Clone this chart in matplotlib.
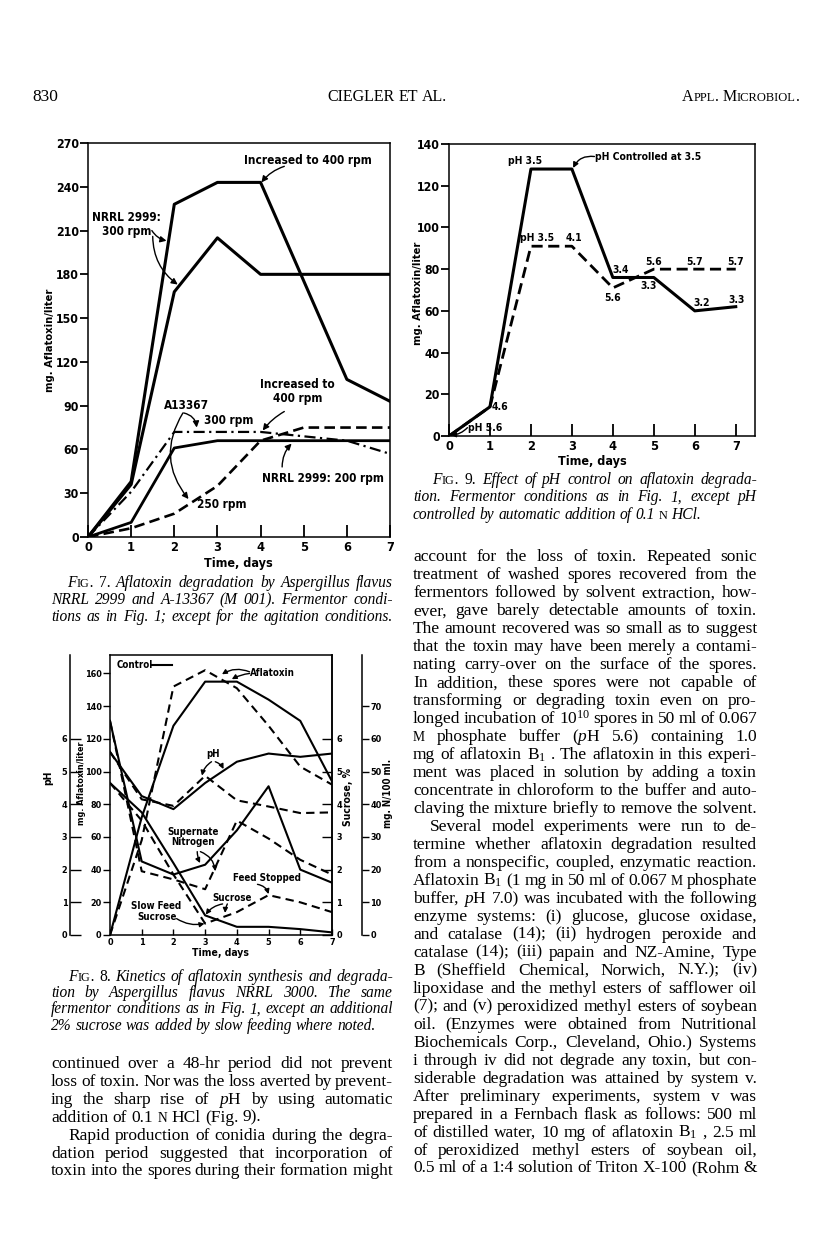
import re
import numpy as np
import matplotlib
matplotlib.use("Agg")
import matplotlib.pyplot as plt

plt.rcParams['font.family'] = ['Liberation Sans Narrow', 'DejaVu Sans']
plt.rcParams['font.weight'] = 'bold'
plt.rcParams['font.stretch'] = 'condensed'
plt.rcParams['mathtext.fontset'] = 'custom'
plt.rcParams['mathtext.rm'] = 'Liberation Serif:weight=normal'
plt.rcParams['mathtext.it'] = 'Liberation Serif:style=italic:weight=normal'
plt.rcParams['axes.linewidth'] = 1.1

SERIF = ['Liberation Serif', 'DejaVu Serif']

# ---------------- Fig. 7 data (mg aflatoxin / liter) ----------------
f7_rpm400_x = [0, 1, 2, 3, 4, 6, 7]
f7_rpm400_y = [0, 38, 228, 243, 243, 108, 93]
f7_rpm300_x = [0, 1, 2, 3, 4, 7]
f7_rpm300_y = [0, 36, 168, 205, 180, 180]
f7_rpm200_x = [0, 1, 2, 3, 7]
f7_rpm200_y = [0, 10, 61, 66, 66]
f7_a300_x = [0, 1, 2, 4, 5, 6, 7]
f7_a300_y = [0, 31, 72, 72, 69, 66, 57]
f7_a250_x = [0, 1, 2, 3, 4, 5, 7]
f7_a250_y = [0, 6, 16, 35, 66, 75, 75]

# ---------------- Fig. 8 data ----------------
f8_days = [0, 1, 2, 3, 4, 5, 6, 7]
f8_afla_ctrl = [0, 72, 128, 155, 155, 144, 131, 94]
f8_afla_feed = [0, 58, 152, 162, 151, 128, 103, 92]
f8_ph_ctrl = [5.6, 4.25, 3.85, 4.65, 5.3, 5.55, 5.45, 5.55]
f8_ph_feed = [5.6, 4.15, 3.95, 4.87, 4.12, 3.93, 3.73, 3.75]
f8_n_ctrl = [65.5, 22.5, 18.5, 21.5, 32, 45.5, 20, 16]
f8_n_feed = [65.5, 19.5, 17, 14, 35, 29.5, 23, 18.5]
f8_suc_ctrl = [4.65, 3.75, 2.2, 0.6, 0.25, 0.25, 0.18, 0.08]
f8_suc_feed = [4.65, 3.5, 1.85, 0.35, 0.7, 1.22, 1.0, 0.7]

# ---------------- Fig. 9 data ----------------
f9_days = [0, 1, 2, 3, 4, 5, 6, 7]
f9_ctrl = [0, 14, 128, 128, 76, 76, 60, 62]
f9_free = [0, 14, 91, 91, 71, 80, 80, 80]
f9_ctrl_ph = [None, '4.6', 'pH 3.5', None, '3.4', '3.3', '3.2', '3.3']
f9_free_ph = [None, None, 'pH 3.5', '4.1', '5.6', '5.6', '5.7', '5.7']
f9_ctrl_off = [None, (10, 0), (-6, 8), None, (8, 7), (-5, -9), (7, 8), (1, 7)]
f9_free_off = [None, None, (6, 8), (2, 8), (0, -10), (0, 7), (0, 7), (0, 7)]

# ---------------- text ----------------
cap7 = ["F<IG>. #7. Aflatoxin degradation by Aspergillus flavus",
        "NRRL 2999 and A-13367 (M 001). Fermentor condi-",
        "tions as in Fig. 1; except for the agitation conditions."]
cap8 = ["F<IG>. #8. Kinetics of aflatoxin synthesis and degrada-",
        "tion by Aspergillus flavus NRRL 3000. The same",
        "fermentor conditions as in Fig. 1, except an additional",
        "2% sucrose was added by slow feeding where noted."]
cap9 = ["F<IG>. #9. Effect of pH control on aflatoxin degrada-",
        "tion. Fermentor conditions as in Fig. 1, except pH",
        "controlled by automatic addition of 0.1 #<N> HCl."]
left_body = ["continued over a 48-hr period did not prevent",
             "loss of toxin. Nor was the loss averted by prevent-",
             r"ing the sharp rise of $\mathit{p}$H by using automatic",
             "addition of 0.1 <N> HCl (Fig. 9).",
             "Rapid production of conidia during the degra-",
             "dation period suggested that incorporation of",
             "toxin into the spores during their formation might"]
right_body = ["account for the loss of toxin. Repeated sonic",
              "treatment of washed spores recovered from the",
              "fermentors followed by solvent extraction, how-",
              "ever, gave barely detectable amounts of toxin.",
              "The amount recovered was so small as to suggest",
              "that the toxin may have been merely a contami-",
              "nating carry-over on the surface of the spores.",
              "In addition, these spores were not capable of",
              "transforming or degrading toxin even on pro-",
              "longed incubation of 10$^{10}$ spores in 50 ml of 0.067",
              r"<M> phosphate buffer ($\mathit{p}$H 5.6) containing 1.0",
              "mg of aflatoxin B$_1$ . The aflatoxin in this experi-",
              "ment was placed in solution by adding a toxin",
              "concentrate in chloroform to the buffer and auto-",
              "claving the mixture briefly to remove the solvent.",
              "Several model experiments were run to de-",
              "termine whether aflatoxin degradation resulted",
              "from a nonspecific, coupled, enzymatic reaction.",
              "Aflatoxin B$_1$ (1 mg in 50 ml of 0.067 <M> phosphate",
              r"buffer, $\mathit{p}$H 7.0) was incubated with the following",
              "enzyme systems: (i) glucose, glucose oxidase,",
              "and catalase (14); (ii) hydrogen peroxide and",
              "catalase (14); (iii) papain and NZ-Amine, Type",
              "B (Sheffield Chemical, Norwich, N.Y.); (iv)",
              "lipoxidase and the methyl esters of safflower oil",
              "(7); and (v) peroxidized methyl esters of soybean",
              "oil. (Enzymes were obtained from Nutritional",
              "Biochemicals Corp., Cleveland, Ohio.) Systems",
              "i through iv did not degrade any toxin, but con-",
              "siderable degradation was attained by system v.",
              "After preliminary experiments, system v was",
              "prepared in a Fernbach flask as follows: 500 ml",
              "of distilled water, 10 mg of aflatoxin B$_1$ , 2.5 ml",
              "of peroxidized methyl esters of soybean oil,",
              "0.5 ml of a 1:4 solution of Triton X-100 (Rohm &"]

W, H = 816, 1243
fig = plt.figure(figsize=(W / 100, H / 100), dpi=100)
fig.patch.set_facecolor('white')
renderer = fig.canvas.get_renderer()


def px_axes(l, t, r, b):
    return fig.add_axes([l / W, 1 - b / H, (r - l) / W, (b - t) / H])


def ptext(x, y, s, **kw):
    return fig.text(x / W, 1 - y / H, s, **kw)


def serif_kw(size, style):
    return dict(fontsize=size, family=SERIF, style=style, weight='normal', stretch='normal')


def seg_w(s, size, style):
    t = ptext(0, 0, s, **serif_kw(size, style))
    w = t.get_window_extent(renderer).width
    t.remove()
    return w


def parse_word(word, italic):
    upright = word.startswith('#')
    if upright:
        word = word[1:]
    style = 'italic' if (italic and not upright) else 'normal'
    segs = []
    for p in re.split(r'(<[^>]*>)', word):
        if not p:
            continue
        if p.startswith('<'):
            segs.append((p[1:-1], 0.78, 'normal'))
        else:
            segs.append((p, 1.0, style))
    return segs


def draw_line(line, x0, x1, y, size, italic=False, justify=True, indent=0):
    words = [parse_word(w, italic) for w in line.split()]
    widths = [[seg_w(s, size * sc, st) for s, sc, st in ws] for ws in words]
    tot = [sum(w) for w in widths]
    xs = x0 + indent
    if justify and len(words) > 1:
        gap = (x1 - xs - sum(tot)) / (len(words) - 1)
    else:
        gap = size * 100 / 72 * 0.25
    x = xs
    for ws, wl in zip(words, widths):
        xx = x
        for (s, sc, st), w in zip(ws, wl):
            ptext(xx, y, s, va='baseline', ha='left', **serif_kw(size * sc, st))
            xx += w
        x += sum(wl) + gap


def draw_block(lines, x0, x1, y0, step, size, italic=False, indents=None, ragged=()):
    for i, ln in enumerate(lines):
        ind = indents.get(i, 0) if indents else 0
        draw_line(ln, x0, x1, y0 + i * step, size, italic, justify=(i not in ragged), indent=ind)


arrow = dict(arrowstyle='-|>', color='black', lw=1.0, mutation_scale=9, shrinkA=0, shrinkB=0)


def arr(ax, xy, xytext, rad=0.0, **kw):
    ap = dict(arrow, connectionstyle='arc3,rad=%s' % rad)
    ap.update(kw)
    ax.annotate('', xy=xy, xytext=xytext, arrowprops=ap)


# ---------------- page header ----------------
draw_line("830", 32, 60, 101, 12.5, justify=False)
draw_line("CIEGLER ET AL.", 327, 450, 101, 11.5, justify=False)
draw_line("A<PPL>. M<ICROBIOL>.", 682, 790, 101, 11.5, justify=False)

# ---------------- Fig. 7 ----------------
ax7 = px_axes(88, 143, 390, 537)
ax7.plot(f7_rpm400_x, f7_rpm400_y, color='k', lw=2.2)
ax7.plot(f7_rpm300_x, f7_rpm300_y, color='k', lw=2.2)
ax7.plot(f7_rpm200_x, f7_rpm200_y, color='k', lw=2.0)
ax7.plot(f7_a300_x, f7_a300_y, color='k', lw=1.6, dashes=(5, 2, 1, 2))
ax7.plot(f7_a250_x, f7_a250_y, color='k', lw=1.9, dashes=(4, 2))
ax7.set_xlim(0, 7)
ax7.set_ylim(0, 270)
ax7.set_xticks(range(8))
ax7.set_yticks(range(0, 271, 30))
ax7.tick_params(axis='y', direction='out', length=6, width=1.3, pad=0.5, labelsize=8.8)
ax7.tick_params(axis='x', direction='in', length=9, width=1.3, pad=3, labelsize=9.2)
ptext(50, 340, "mg. Aflatoxin/liter", rotation=90, ha='center', va='center', fontsize=8)
ptext(238, 563, "Time, days", ha='center', va='center', fontsize=9)

fs7 = 8.5
ax7.text(5.1, 258, "Increased to 400 rpm", ha='center', va='center', fontsize=fs7)
arr(ax7, (4.02, 243), (4.55, 254), rad=0.15)
ax7.text(0.9, 214, "NRRL 2999:\n300 rpm", ha='center', va='center', fontsize=fs7, linespacing=1.1)
arr(ax7, (1.82, 203), (1.48, 210), rad=0.2)
arr(ax7, (2.08, 173), (1.5, 206), rad=0.25)
ax7.text(4.85, 100, "Increased to\n400 rpm", ha='center', va='center', fontsize=fs7, linespacing=1.1)
arr(ax7, (4.05, 73), (4.55, 86), rad=0.1)
ax7.text(2.28, 90, "A13367", ha='center', va='center', fontsize=fs7)
arr(ax7, (2.52, 75), (2.22, 85), rad=-0.35)
arr(ax7, (2.33, 26), (2.2, 85), rad=0.35)
ax7.text(3.25, 80, "300 rpm", ha='center', va='center', fontsize=fs7)
ax7.text(3.1, 22, "250 rpm", ha='center', va='center', fontsize=fs7)
ax7.text(5.45, 40, "NRRL 2999: 200 rpm", ha='center', va='center', fontsize=fs7)
arr(ax7, (4.72, 64), (4.5, 48), rad=-0.2)

draw_block(cap7, 51, 393, 587, 17, 11.2, italic=True, indents={0: 16})

# ---------------- Fig. 8 ----------------
ax8 = px_axes(110, 655, 332, 935)
ax8.set_xlim(0, 7)
ax8.set_ylim(0, 171.3)
ax8.set_xticks(range(8))
ax8.set_yticks(range(0, 161, 20))
ax8.tick_params(axis='y', direction='out', length=5, width=1.0, pad=1, labelsize=6.5)
ax8.tick_params(axis='x', direction='in', length=4, width=1.0, pad=2, labelsize=6.5)


def twin(ax, side, pos, top):
    t = ax.twinx()
    for s in t.spines.values():
        s.set_visible(False)
    t.spines[side].set_visible(True)
    t.spines[side].set_position(('axes', pos))
    t.yaxis.set_ticks_position(side)
    t.set_ylim(0, top)
    return t


ax_ph = twin(ax8, 'left', -0.18, 171.3 / 20)
ax_ph.set_yticks(range(0, 7))
ax_ph.tick_params(axis='y', direction='in', length=8, width=1.0, pad=2, labelsize=6.5)
ax_suc = twin(ax8, 'right', 1.0, 171.3 / 20)
ax_suc.set_yticks(range(0, 7))
ax_suc.tick_params(axis='y', direction='in', length=7, width=1.0, pad=3, labelsize=6.5)
ax_n = twin(ax8, 'right', 1.135, 171.3 / 2)
ax_n.set_yticks(range(0, 71, 10))
ax_n.tick_params(axis='y', direction='out', length=5, width=1.0, pad=1, labelsize=6.5)

lw8 = 1.5
dsh8 = (4, 2.5)
ax8.plot(f8_days, f8_afla_ctrl, color='k', lw=lw8)
ax8.plot(f8_days, f8_afla_feed, color='k', lw=lw8, dashes=dsh8)
ax_ph.plot(f8_days, f8_ph_ctrl, color='k', lw=lw8)
ax_ph.plot(f8_days, f8_ph_feed, color='k', lw=lw8, dashes=dsh8)
ax_n.plot(f8_days, f8_n_ctrl, color='k', lw=lw8)
ax_n.plot(f8_days, f8_n_feed, color='k', lw=lw8, dashes=dsh8)
ax_suc.plot(f8_days, f8_suc_ctrl, color='k', lw=lw8)
ax_suc.plot(f8_days, f8_suc_feed, color='k', lw=lw8, dashes=dsh8)

fs8 = 7
ax8.text(0.2, 165, "Control", ha='left', va='center', fontsize=fs8)
ax8.plot([1.32, 1.95], [165, 165], color='k', lw=lw8)
ax8.text(4.42, 160, "Aflatoxin", ha='left', va='center', fontsize=fs8)
arr(ax8, (3.53, 159.5), (4.4, 161), rad=0.25, mutation_scale=7)
arr(ax8, (3.84, 156.5), (4.4, 160), rad=0.1, mutation_scale=7)
ax8.text(3.26, 111, "pH", ha='center', va='center', fontsize=fs8)
arr(ax8, (2.9, 97.5), (3.2, 106), rad=0.2, mutation_scale=7)
arr(ax8, (3.58, 101.5), (3.32, 106), rad=-0.2, mutation_scale=7)
ax8.text(2.63, 60, "Supernate\nNitrogen", ha='center', va='center', fontsize=fs8, linespacing=1.1)
arr(ax8, (2.84, 44), (2.75, 51), rad=0.1, mutation_scale=7)
arr(ax8, (3.32, 39), (2.85, 51), rad=-0.3, mutation_scale=7)
ax8.text(4.95, 35, "Feed Stopped", ha='center', va='center', fontsize=fs8)
arr(ax8, (5.0, 25), (4.65, 31), rad=-0.3, mutation_scale=7)
ax8.text(3.84, 22.5, "Sucrose", ha='center', va='center', fontsize=fs8)
arr(ax8, (3.02, 12.5), (3.55, 19), rad=0.2, mutation_scale=7)
arr(ax8, (3.63, 13.5), (3.7, 19), rad=0.1, mutation_scale=7)
ax8.text(1.47, 14.5, "Slow Feed\nSucrose", ha='center', va='center', fontsize=fs8, linespacing=1.1)
arr(ax8, (2.98, 7), (2.1, 10), rad=0.2, mutation_scale=7)

ptext(48, 778, "pH", rotation=90, ha='center', va='center', fontsize=7.5)
ptext(81, 783, "mg. Aflatoxin/liter", rotation=90, ha='center', va='center', fontsize=6.5)
ptext(348, 797, "Sucrose, %", rotation=90, ha='center', va='center', fontsize=7.5)
ptext(388, 793, "mg. N/100 ml.", rotation=90, ha='center', va='center', fontsize=7)
ptext(221, 953, "Time, days", ha='center', va='center', fontsize=7.5)

draw_block(cap8, 51, 393, 981, 16.2, 11.2, italic=True, indents={0: 17}, ragged={3})

# ---------------- Fig. 9 ----------------
ax9 = px_axes(449, 144, 755, 436)
ax9.plot(f9_days, f9_ctrl, color='k', lw=2.2)
ax9.plot(f9_days, f9_free, color='k', lw=2.0, dashes=(4, 2))
ax9.set_xlim(0, 7.47)
ax9.set_ylim(0, 140)
ax9.set_xticks(range(8))
ax9.set_yticks(range(0, 141, 20))
ax9.tick_params(axis='y', direction='out', length=6, width=1.3, pad=0.5, labelsize=8.8)
ax9.tick_params(axis='x', direction='in', length=9, width=1.3, pad=3, labelsize=9.2)
ptext(418, 293, "mg. Aflatoxin/liter", rotation=90, ha='center', va='center', fontsize=8)
ptext(592, 462, "Time, days", ha='center', va='center', fontsize=9)

fs9 = 7.5
for d, v, lbl, off in zip(f9_days, f9_ctrl, f9_ctrl_ph, f9_ctrl_off):
    if lbl:
        ax9.annotate(lbl, (d, v), xytext=off, textcoords='offset pixels',
                     ha='center', va='center', fontsize=fs9)
for d, v, lbl, off in zip(f9_days, f9_free, f9_free_ph, f9_free_off):
    if lbl:
        ax9.annotate(lbl, (d, v), xytext=off, textcoords='offset pixels',
                     ha='center', va='center', fontsize=fs9)
ax9.text(0.46, 4, "pH 5.6", ha='left', va='center', fontsize=fs9)
arr(ax9, (0.05, 0.5), (0.45, 4), rad=-0.2, mutation_scale=7)
ax9.text(3.57, 134, "pH Controlled at 3.5", ha='left', va='center', fontsize=fs9)
arr(ax9, (3.03, 128.5), (3.55, 134), rad=0.35, mutation_scale=8)

draw_block(cap9, 413, 757, 484, 17.3, 11.2, italic=True, indents={0: 19}, ragged={2})

# ---------------- body text ----------------
draw_block(left_body, 51, 393, 1068, 17.9, 12.5, indents={4: 17}, ragged={3})
draw_block(right_body, 413, 757, 561.5, 17.97, 12.5, indents={15: 17})

fig.savefig("out.png", dpi=100, facecolor='white')
